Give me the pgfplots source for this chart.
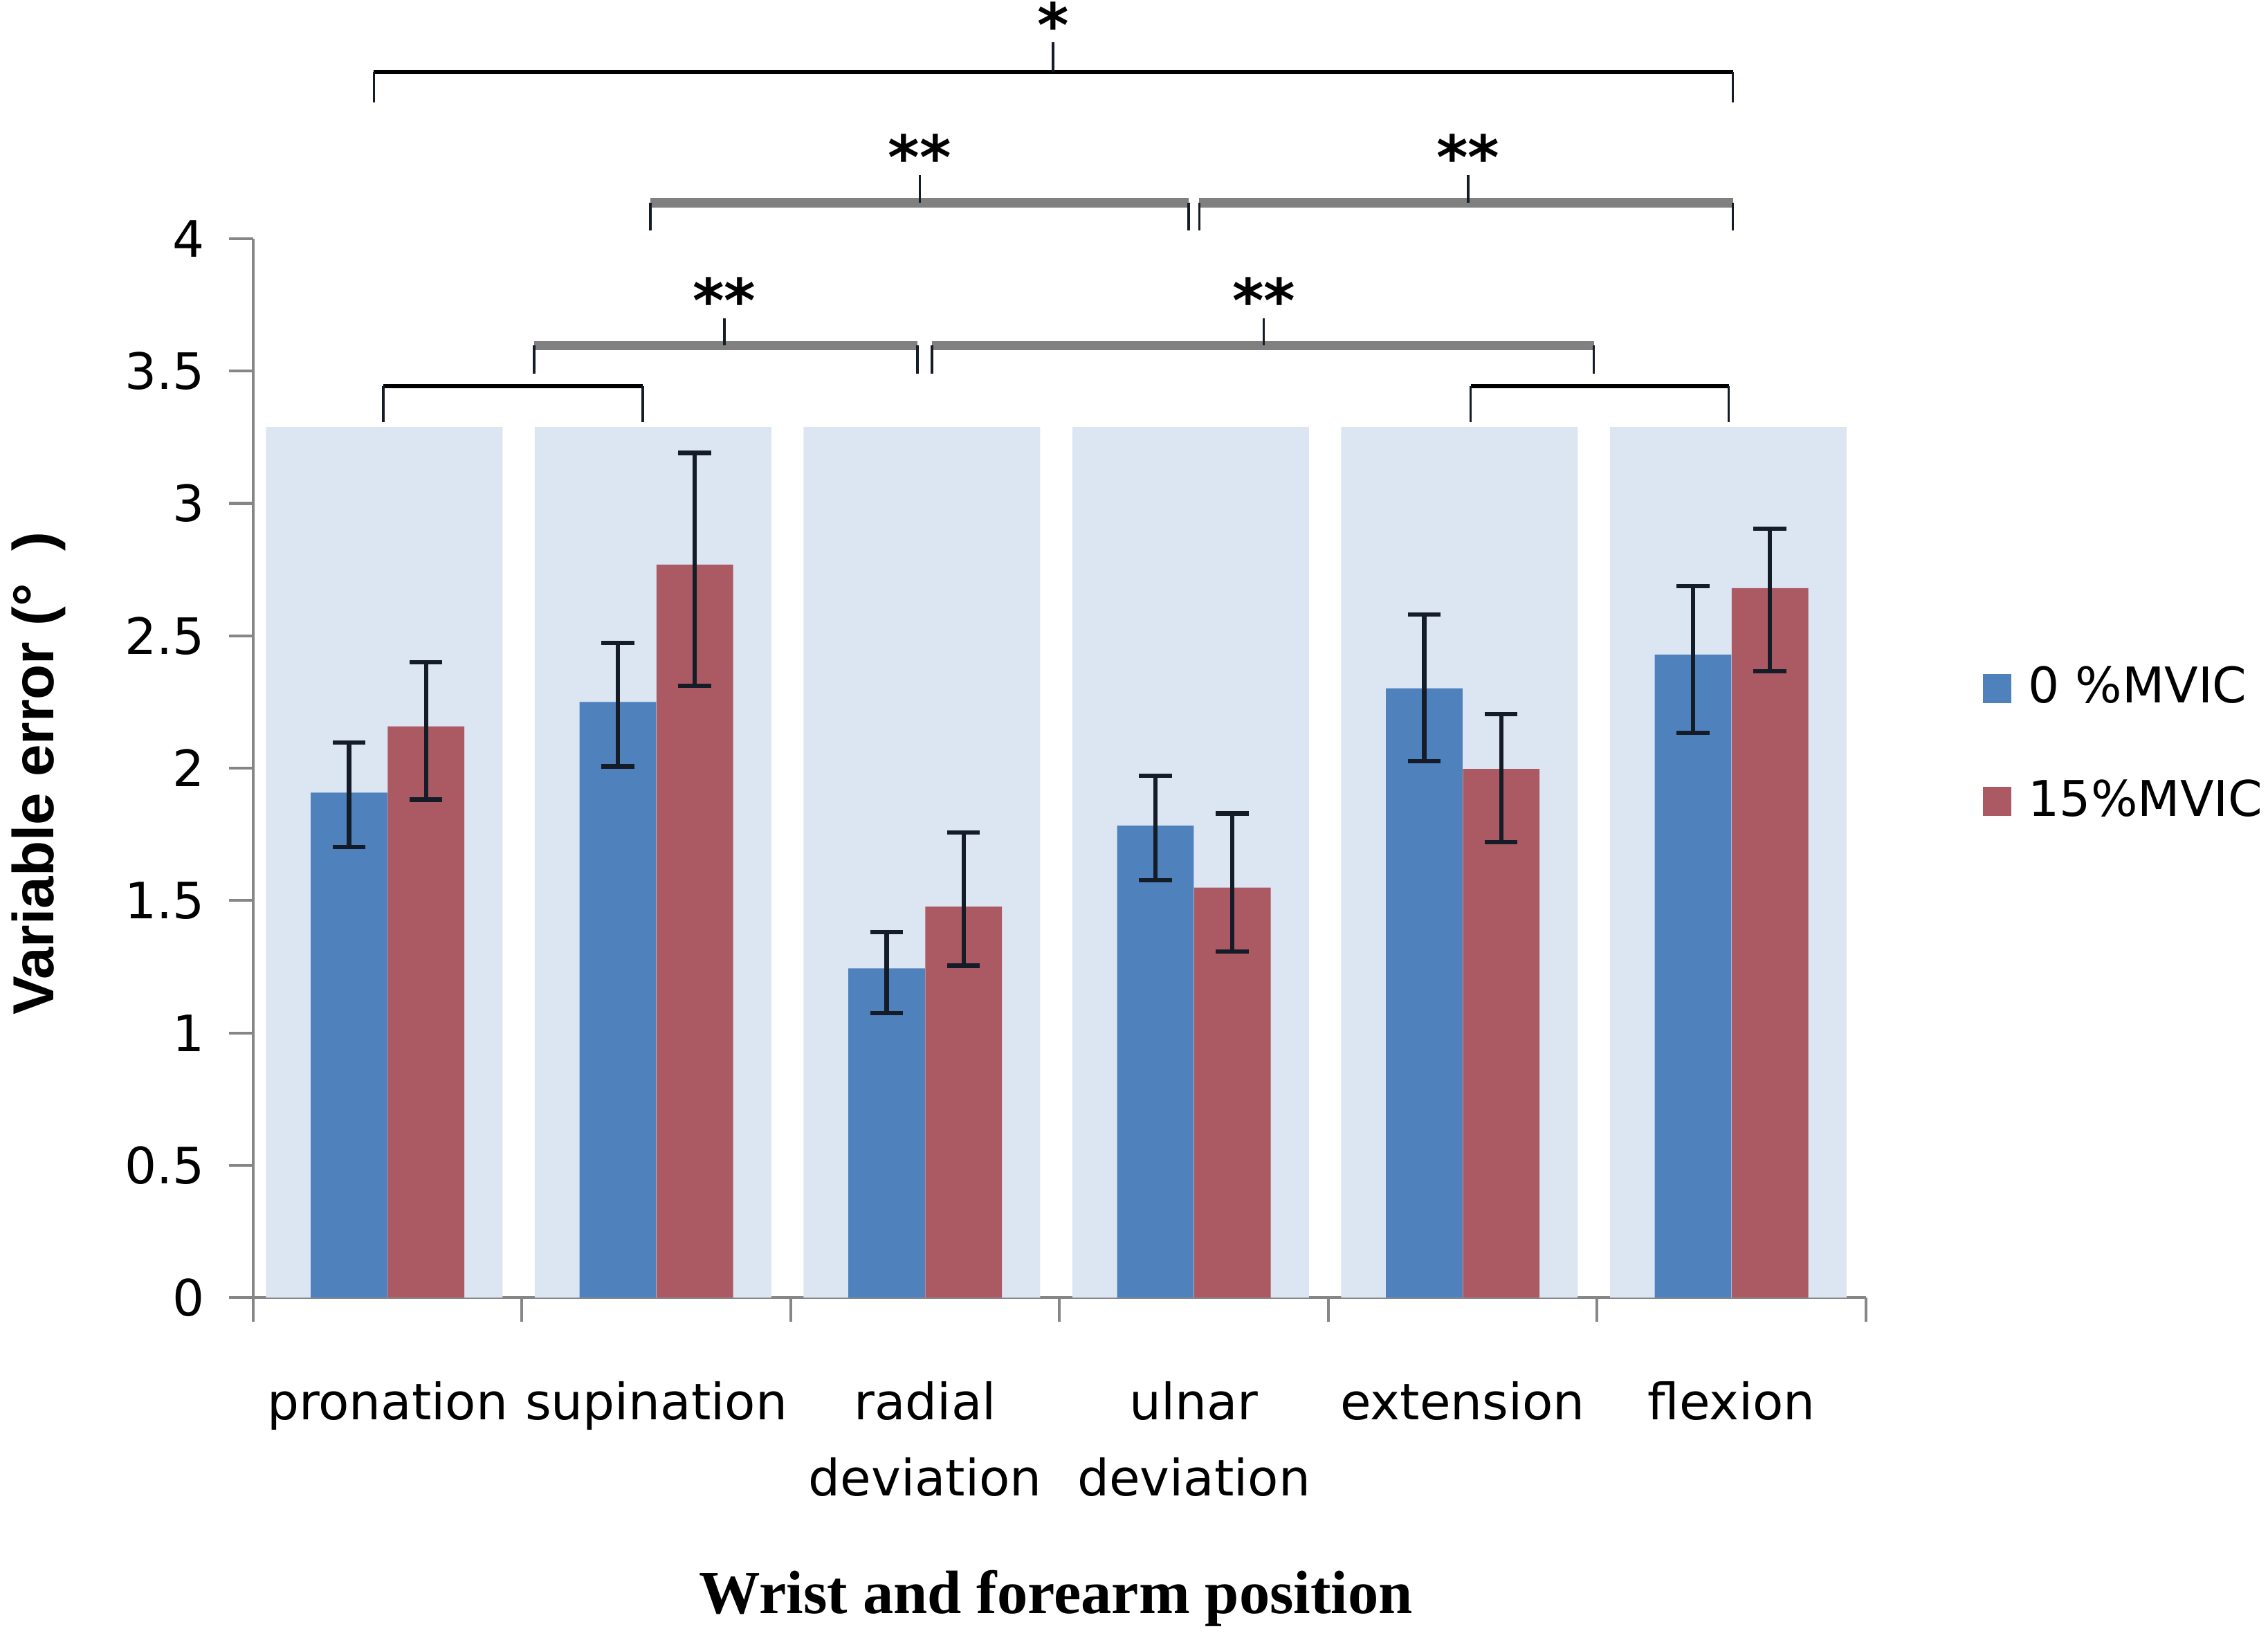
\documentclass[border=0pt]{standalone}
\usepackage{fontspec}
\setmainfont{DejaVu Sans}
\newfontfamily\lsans{Liberation Sans}
\newfontfamily\lserif{Liberation Serif}
\usepackage{pgfplots}
\usepackage{pgfplotstable}
\pgfplotsset{compat=1.18}
\definecolor{cblue}{HTML}{4F81BD}
\definecolor{cred}{HTML}{AB5A63}
\definecolor{cshade}{HTML}{DCE6F2}
\definecolor{axgray}{HTML}{868686}
\definecolor{brgray}{HTML}{808080}
\definecolor{errc}{HTML}{141C28}

% x = category position of each bar centre (category index - 0.143 for 0 %MVIC)
\pgfplotstableread{
x y ep em
-0.143 1.908 0.189 0.206
0.857 2.250 0.223 0.243
1.857 1.244 0.136 0.169
2.857 1.783 0.188 0.207
3.857 2.302 0.279 0.276
4.857 2.429 0.259 0.296
}\tblue
% category index + 0.143 for 15 %MVIC
\pgfplotstableread{
x y ep em
0.143 2.158 0.243 0.277
1.143 2.769 0.422 0.458
2.143 1.477 0.280 0.223
3.143 1.549 0.280 0.242
4.143 1.997 0.208 0.277
5.143 2.680 0.225 0.314
}\tred
\pgfplotstableread{
x y
-0.012 3.289
0.988 3.289
1.988 3.289
2.988 3.289
3.988 3.289
4.988 3.289
}\tshade

\begin{document}
\begin{tikzpicture}
\useasboundingbox (-52.5pt,-70.5pt) rectangle (417.9pt,269.1pt);
\begin{axis}[
  at={(0pt,0pt)}, anchor=south west,
  scale only axis,
  width=334.5pt, height=219.6pt,
  xmin=-0.5, xmax=5.5, ymin=0, ymax=4,
  clip=false,
  axis x line*=bottom, axis y line*=left,
  axis line style={draw=axgray, line width=0.6pt, -},
  tick style={draw=axgray, line width=0.6pt},
  tick align=outside,
  ytick={0,0.5,1,1.5,2,2.5,3,3.5,4},
  yticklabels={0,0.5,1,1.5,2,2.5,3,3.5,4},
  xtick={-0.5,0.5,1.5,2.5,3.5,4.5,5.5},
  x tick label as interval,
  xticklabels={pronation,supination,radial\\deviation,ulnar\\deviation,extension,flexion},
  major tick length=5pt,
  x tick label style={align=center, font={\fontsize{10.4}{15.9}\selectfont}, yshift=-8.8pt},
  y tick label style={font={\fontsize{10.4}{12}\selectfont}, xshift=-1.5pt},
  /pgf/number format/assume math mode=true,
  ylabel={Variable error (°\ \ )},
  ylabel style={at={(axis description cs:-0.1330,0.495)}, anchor=center, font={\lsans\bfseries\fontsize{12}{14}\selectfont}},
  xlabel={Wrist and forearm position},
  xlabel style={at={(axis description cs:0.4978,-0.284)}, anchor=center, font={\lserif\bfseries\fontsize{12.7}{15}\selectfont}},
  legend style={at={(axis description cs:1.0718,0.522)}, anchor=west, draw=none, fill=none,
    inner sep=0pt, row sep=11.4pt, font={\fontsize{10.2}{12}\selectfont},
    nodes={inner sep=1.5pt}},
  legend cell align=left,
  legend image code/.code={\fill[#1] (-0.5pt,-3pt) rectangle (5.5pt,3pt);},
  /tikz/every odd column/.append style={column sep=2pt},
]
\addplot[ybar, bar width=0.88, bar shift=0, fill=cshade, draw=none, forget plot] table[x=x,y=y]{\tshade};
\addplot[ybar, bar width=0.285, bar shift=0, fill=cblue, draw=none,
  error bars/.cd, y dir=both, y explicit,
  error bar style={draw=errc, line width=0.9pt},
  error mark=|,
  error mark options={mark size=3.4pt, line width=0.9pt, draw=errc}]
  table[x=x, y=y, y error plus=ep, y error minus=em]{\tblue};
\addlegendentry{0 \%MVIC}
\addplot[ybar, bar width=0.285, bar shift=0, fill=cred, draw=none,
  error bars/.cd, y dir=both, y explicit,
  error bar style={draw=errc, line width=0.9pt},
  error mark=|,
  error mark options={mark size=3.4pt, line width=0.9pt, draw=errc}]
  table[x=x, y=y, y error plus=ep, y error minus=em]{\tred};
\addlegendentry{15\%MVIC}

% top bracket
\draw[black, line width=0.9pt] (-0.051,4.629) -- (5.005,4.629);
\draw[errc, line width=0.5pt] (-0.051,4.514) -- (-0.051,4.629) (5.005,4.514) -- (5.005,4.629) (2.476,4.629) -- (2.476,4.743);
\node[font={\bfseries\fontsize{12.5}{13}\selectfont}] at (2.476,4.81) {*};
% second row (gray)
\draw[brgray, line width=2pt] (0.978,4.135) -- (2.98,4.135) (3.02,4.135) -- (5.005,4.135);
\draw[errc, line width=0.5pt] (0.978,4.03) -- (0.978,4.135) (2.98,4.03) -- (2.98,4.135) (3.02,4.03) -- (3.02,4.135) (5.005,4.03) -- (5.005,4.135)
  (1.98,4.135) -- (1.98,4.24) (4.02,4.135) -- (4.02,4.24);
\node[font={\bfseries\fontsize{12.5}{13}\selectfont}] at (1.98,4.31) {**};
\node[font={\bfseries\fontsize{12.5}{13}\selectfont}] at (4.02,4.31) {**};
% third row (gray)
\draw[brgray, line width=2pt] (0.546,3.596) -- (1.971,3.596) (2.025,3.596) -- (4.488,3.596);
\draw[errc, line width=0.5pt] (0.546,3.49) -- (0.546,3.596) (1.971,3.49) -- (1.971,3.596) (2.025,3.49) -- (2.025,3.596) (4.488,3.49) -- (4.488,3.596)
  (1.253,3.596) -- (1.253,3.70) (3.26,3.596) -- (3.26,3.70);
\node[font={\bfseries\fontsize{12.5}{13}\selectfont}] at (1.253,3.77) {**};
\node[font={\bfseries\fontsize{12.5}{13}\selectfont}] at (3.26,3.77) {**};
% fourth row (black)
\draw[black, line width=0.9pt] (-0.016,3.444) -- (0.95,3.444) (4.03,3.444) -- (4.99,3.444);
\draw[errc, line width=0.5pt] (-0.016,3.308) -- (-0.016,3.444) (0.95,3.308) -- (0.95,3.444) (4.03,3.308) -- (4.03,3.444) (4.99,3.308) -- (4.99,3.444);
\end{axis}
\end{tikzpicture}
\end{document}
